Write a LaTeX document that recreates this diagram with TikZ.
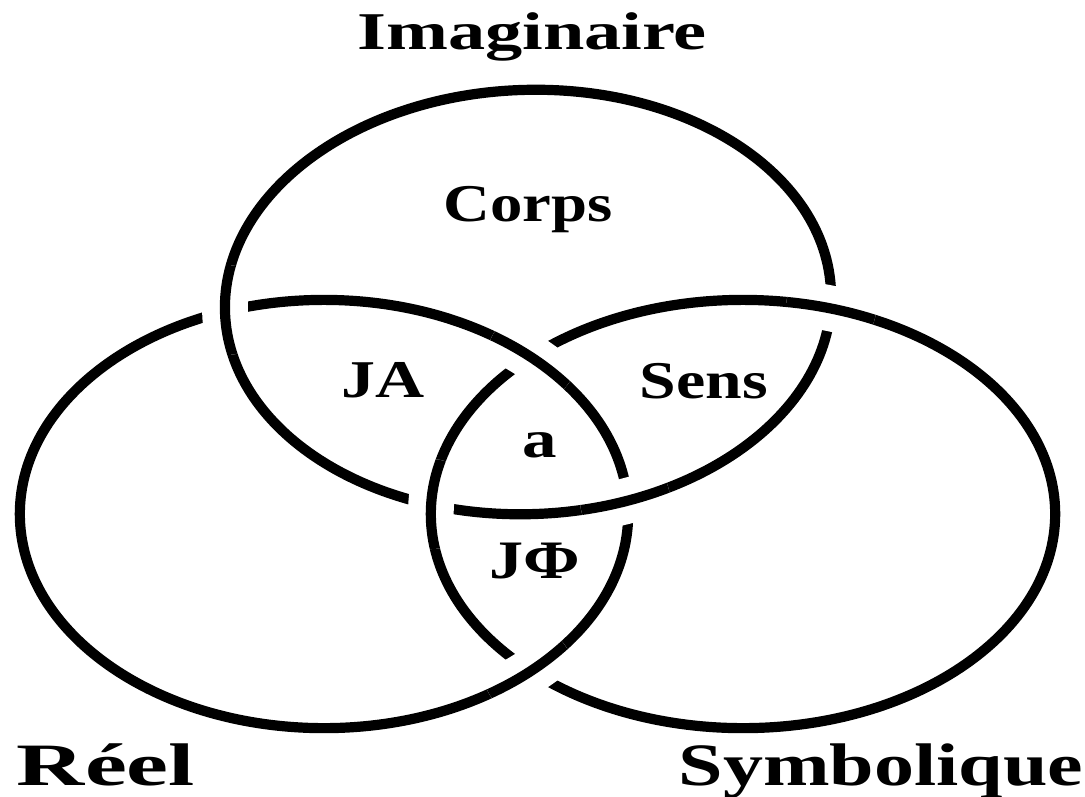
\documentclass[tikz,border=0pt]{standalone}
\usepackage{fontspec}
\setmainfont{Liberation Serif}
\usepackage{graphicx}
\newcommand\lbl[3]{\fontsize{#1}{#1}\selectfont\bfseries\scalebox{#2}[1]{#3}}
\newcommand\Ipath{(528,302) ellipse [x radius=3.03cm, y radius=2.12cm, rotate=2]}
\newcommand\Rpath{(324,514) ellipse [x radius=3.04cm, y radius=2.14cm]}
\newcommand\Spath{(743,514) ellipse [x radius=3.12cm, y radius=2.14cm]}
\tikzset{
  ring/.style={line width=2.9pt, black},
  gapw/.style={line width=13pt, white},
  lab/.style={inner sep=0pt, anchor=base}
}
\newcommand\crossover[2]{\begin{scope}\clip #1 circle [radius=0.45cm];\draw[gapw] #2;\draw[ring] #2;\end{scope}}
\begin{document}
\begin{tikzpicture}[x=0.01cm, y=-0.01cm]
\useasboundingbox[fill=white] (0,0) rectangle (1085,796);
% the three rings
\draw[ring] \Ipath;
\draw[ring] \Rpath;
\draw[ring] \Spath;
% crossings (over ring is redrawn with a white gap)
\crossover{(226,310)}{\Ipath}
\crossover{(431,504)}{\Spath}
\crossover{(532,357)}{\Rpath}
\crossover{(625,500)}{\Ipath}
\crossover{(831,308)}{\Spath}
\crossover{(528,671)}{\Rpath}
% labels
\node[lab] (imag) at (532,49) {\lbl{15.1pt}{1.40}{Imaginaire}};
\node[lab] (corps) at (528,221) {\lbl{15.1pt}{1.22}{Corps}};
\node[lab] (ja) at (383,397) {\lbl{15.1pt}{1.28}{JA}};
\node[lab] (sens) at (704,398) {\lbl{15.1pt}{1.24}{Sens}};
\node[lab] (a) at (540,457) {\lbl{15.1pt}{1.3}{a}};
\node[lab] (jphi) at (535,578) {\lbl{15.4pt}{1.26}{JΦ}};
\node[lab] (reel) at (106,785) {\lbl{17.1pt}{1.57}{Réel}};
\node[lab] (symb) at (881,785) {\lbl{17.1pt}{1.33}{Symbolique}};
\end{tikzpicture}
\end{document}
